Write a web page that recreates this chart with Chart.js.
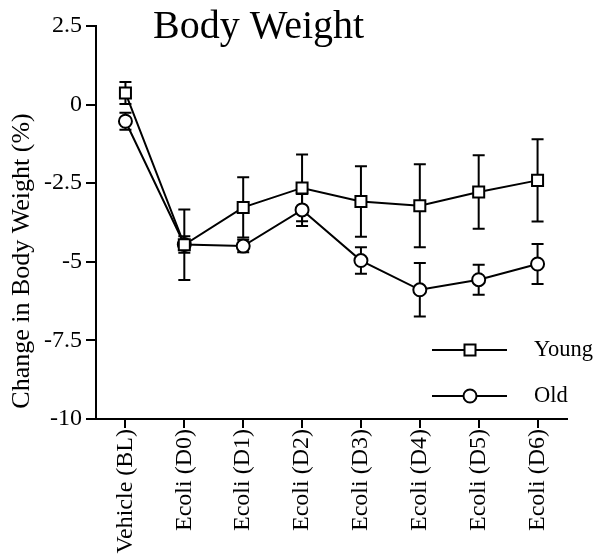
<!DOCTYPE html>
<html>
<head>
<meta charset="utf-8">
<script src="https://cdn.jsdelivr.net/npm/chart.js@4/dist/chart.umd.min.js"></script>
<style>
  html, body { margin: 0; padding: 0; background: #fff; }
  #wrap { width: 601px; height: 560px; }
</style>
</head>
<body>
<div id="wrap"><canvas id="c" width="601" height="560"></canvas></div>
<script>
const categories = ['Vehicle (BL)', 'Ecoli (D0)', 'Ecoli (D1)', 'Ecoli (D2)', 'Ecoli (D3)', 'Ecoli (D4)', 'Ecoli (D5)', 'Ecoli (D6)'];
const youngMean = [0.37, -4.46, -3.27, -2.65, -3.08, -3.22, -2.78, -2.41];
const youngErr  = [0.35, 1.12, 0.96, 1.06, 1.12, 1.32, 1.17, 1.31];
const oldMean   = [-0.53, -4.45, -4.5, -3.35, -4.96, -5.89, -5.57, -5.07];
const oldErr    = [0.27, 0.26, 0.2, 0.51, 0.42, 0.85, 0.48, 0.64];
const yTicks = [2.5, 0, -2.5, -5, -7.5, -10];
const titleText = 'Body Weight';
const yTitleText = 'Change in Body Weight (%)';
const seriesNames = ['Young', 'Old'];

const SERIF = "'Liberation Serif', 'DejaVu Serif', serif";

const errorBars = {
  id: 'errorBars',
  beforeDatasetsDraw(chart) {
    const ctx = chart.ctx;
    const ys = chart.scales.y;
    ctx.save();
    ctx.strokeStyle = '#000';
    ctx.lineWidth = 2;
    chart.data.datasets.forEach((ds, di) => {
      const meta = chart.getDatasetMeta(di);
      meta.data.forEach((pt, i) => {
        const m = ds.data[i], e = ds.errors[i];
        const x = pt.x;
        const yt = ys.getPixelForValue(m + e);
        const yb = ys.getPixelForValue(m - e);
        const cap = 6;
        ctx.beginPath();
        ctx.moveTo(x, yt); ctx.lineTo(x, yb);
        ctx.moveTo(x - cap, yt); ctx.lineTo(x + cap, yt);
        ctx.moveTo(x - cap, yb); ctx.lineTo(x + cap, yb);
        ctx.stroke();
      });
    });
    ctx.restore();
  }
};

const decorations = {
  id: 'decorations',
  afterDraw(chart) {
    const ctx = chart.ctx;
    ctx.save();
    ctx.fillStyle = '#000';
    // Title
    ctx.font = '40px ' + SERIF;
    ctx.textAlign = 'left';
    ctx.textBaseline = 'alphabetic';
    ctx.fillText(titleText, 153, 38);
    // Y axis title
    ctx.save();
    ctx.translate(22, 261);
    ctx.rotate(-Math.PI / 2);
    ctx.font = '26px ' + SERIF;
    ctx.textAlign = 'center';
    ctx.textBaseline = 'middle';
    ctx.fillText(yTitleText, 0, 0);
    ctx.restore();
    // Legend
    const rows = [350, 396];
    chart.data.datasets.forEach((ds, di) => {
      const y = rows[di];
      ctx.strokeStyle = '#000';
      ctx.lineWidth = 2;
      ctx.beginPath();
      ctx.moveTo(432, y); ctx.lineTo(507, y);
      ctx.stroke();
      ctx.fillStyle = '#fff';
      ctx.beginPath();
      if (ds.pointStyle === 'rect') {
        ctx.rect(470 - 5.5, y - 5.5, 11, 11);
      } else {
        ctx.arc(470, y, 6.5, 0, Math.PI * 2);
      }
      ctx.fill();
      ctx.stroke();
      ctx.fillStyle = '#000';
      ctx.font = '22.5px ' + SERIF;
      ctx.textAlign = 'left';
      ctx.textBaseline = 'middle';
      ctx.fillText(seriesNames[di], 534, y);
    });
    ctx.restore();
  }
};

new Chart(document.getElementById('c'), {
  type: 'line',
  data: {
    labels: categories,
    datasets: [
      {
        label: seriesNames[0],
        data: youngMean,
        errors: youngErr,
        borderColor: '#000',
        borderWidth: 2,
        pointStyle: 'rect',
        pointRadius: 7.8,
        pointBorderWidth: 2,
        pointBackgroundColor: '#fff',
        pointBorderColor: '#000',
        tension: 0,
        fill: false
      },
      {
        label: seriesNames[1],
        data: oldMean,
        errors: oldErr,
        borderColor: '#000',
        borderWidth: 2,
        pointStyle: 'circle',
        pointRadius: 6.5,
        pointBorderWidth: 2,
        pointBackgroundColor: '#fff',
        pointBorderColor: '#000',
        tension: 0,
        fill: false
      }
    ]
  },
  options: {
    responsive: false,
    animation: false,
    devicePixelRatio: 1,
    layout: { padding: { top: 26, right: 34, left: 0, bottom: 0 } },
    plugins: {
      legend: { display: false },
      title: { display: false },
      tooltip: { enabled: false }
    },
    scales: {
      x: {
        type: 'category',
        offset: true,
        grid: { drawOnChartArea: false, tickLength: 9, color: '#000', lineWidth: 2 },
        border: { color: '#000', width: 2 },
        ticks: {
          maxRotation: 90, minRotation: 90, padding: 1, color: '#000',
          font: { family: SERIF, size: 24 }
        },
        afterFit(scale) { scale.height = 141; }
      },
      y: {
        min: -10, max: 2.5,
        grid: { drawOnChartArea: false, tickLength: 10, color: '#000', lineWidth: 2 },
        border: { color: '#000', width: 2 },
        afterBuildTicks(scale) { scale.ticks = yTicks.map(v => ({ value: v })); },
        ticks: {
          padding: 4, color: '#000',
          font: { family: SERIF, size: 24 },
          callback: (v) => String(v)
        },
        afterFit(scale) { scale.width = 96; }
      }
    }
  },
  plugins: [errorBars, decorations]
});
</script>
</body>
</html>
